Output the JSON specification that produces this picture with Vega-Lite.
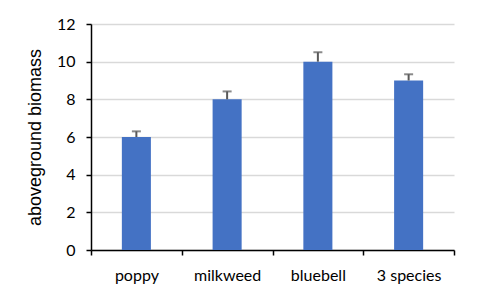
{
  "$schema": "https://vega.github.io/schema/vega-lite/v6.json",
  "width": 363,
  "height": 226,
  "autosize": "none",
  "padding": {"left": 91, "top": 24, "right": 24, "bottom": 49},
  "background": "white",
  "config": {
    "view": {"stroke": null},
    "axis": {"labelFont": "Lato", "titleFont": "Liberation Sans", "labelColor": "#000", "titleColor": "#000", "domainColor": "#000", "tickColor": "#000"},
    "axisY": {"title": "aboveground biomass", "titleFontSize": 18, "titleFontWeight": "normal", "titlePadding": 12, "values": [0, 2, 4, 6, 8, 10, 12], "labelOverlap": false, "labelFontSize": 16, "labelPadding": 11, "tickSize": 5, "domainWidth": 1.5, "tickWidth": 1.5, "grid": true, "gridColor": "#D9D9D9", "gridWidth": 1.3, "gridOpacity": 1}
  },
  "data": {
    "values": [
      {"plant": "poppy", "biomass": 6, "upper": 6.3},
      {"plant": "milkweed", "biomass": 8, "upper": 8.42},
      {"plant": "bluebell", "biomass": 10, "upper": 10.5},
      {"plant": "3 species", "biomass": 9, "upper": 9.33}
    ]
  },
  "encoding": {
    "x": {
      "field": "plant", "type": "nominal", "sort": null,
      "scale": {"paddingInner": 0, "paddingOuter": 0},
      "axis": {"title": null, "labelAngle": 0, "labelFontSize": 16, "labelPadding": 12, "tickBand": "extent", "tickSize": 5, "domainWidth": 1.5, "tickWidth": 1.5, "grid": false}
    }
  },
  "layer": [
    {
      "mark": {"type": "bar", "color": "#4472C4", "width": {"band": 0.32}},
      "encoding": {
        "y": {
          "field": "biomass", "type": "quantitative",
          "scale": {"domain": [0, 12], "nice": false},
          "axis": {"title": "aboveground biomass", "values": [0, 2, 4, 6, 8, 10, 12], "grid": true}
        }
      }
    },
    {
      "mark": {"type": "rule", "color": "#595959", "strokeWidth": 2},
      "encoding": {
        "y": {"field": "biomass", "type": "quantitative", "axis": {"title": "aboveground biomass", "values": [0, 2, 4, 6, 8, 10, 12], "grid": true}},
        "y2": {"field": "upper"}
      }
    },
    {
      "mark": {"type": "tick", "color": "#595959", "size": 9, "thickness": 2},
      "encoding": {
        "y": {"field": "upper", "type": "quantitative", "axis": {"title": "aboveground biomass", "values": [0, 2, 4, 6, 8, 10, 12], "grid": true}}
      }
    }
  ]
}
